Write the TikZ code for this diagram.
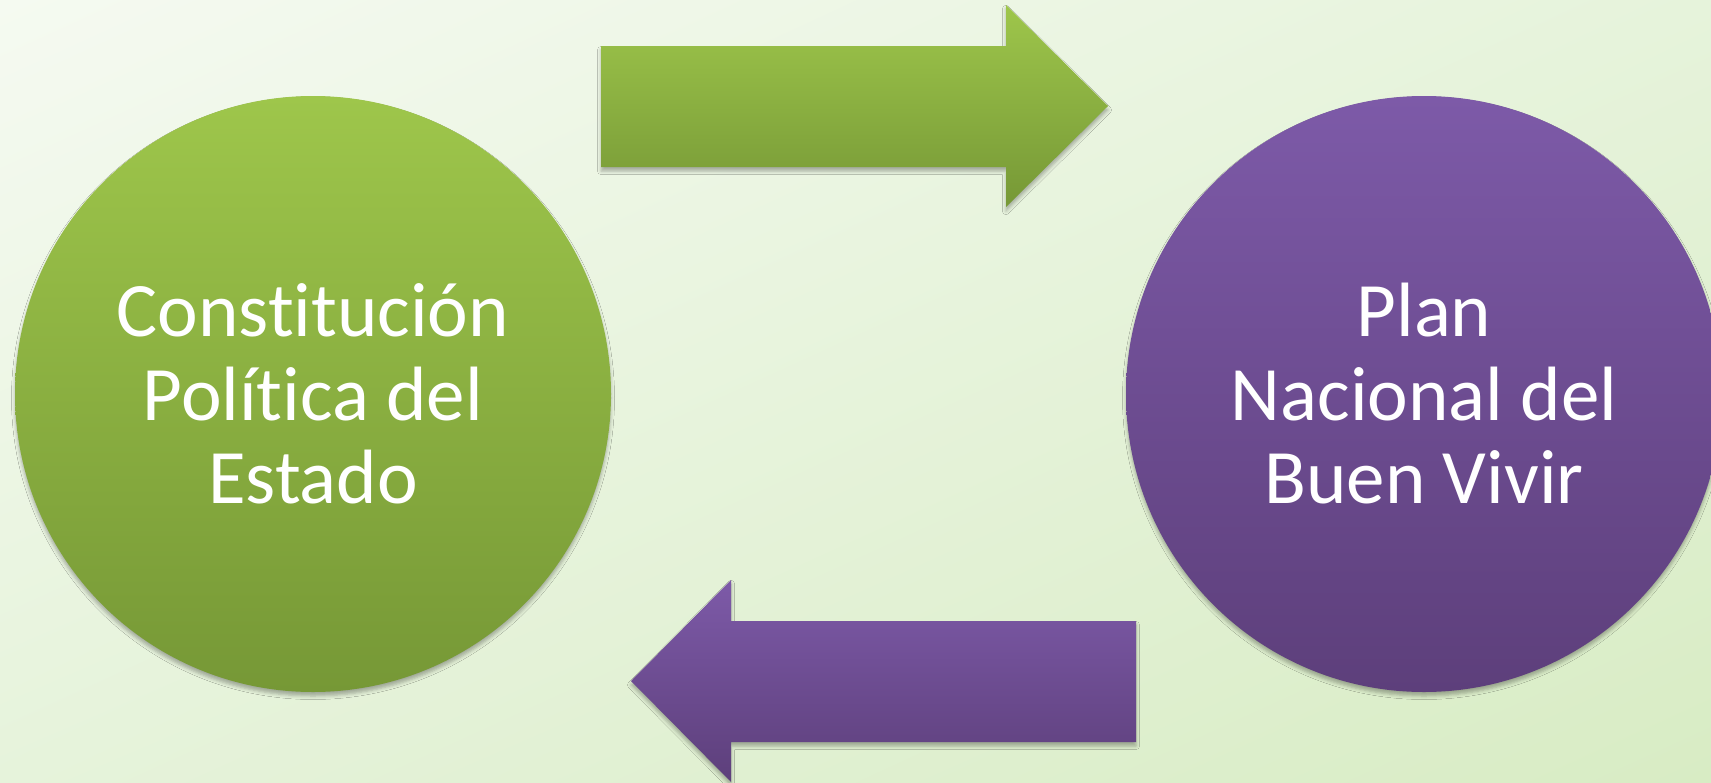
\documentclass[tikz,border=0pt]{standalone}
\usepackage{fontspec}
\setmainfont{Carlito}[Ligatures=NoCommon]
\usetikzlibrary{shadows.blur,shadings}
\definecolor{bgA}{HTML}{F5FAF1}
\definecolor{bgB}{HTML}{D8ECC4}
\definecolor{bgM}{HTML}{E6F3DB}
\definecolor{grT}{HTML}{9EC64B}
\definecolor{grB}{HTML}{769836}
\definecolor{puT}{HTML}{7D5AA8}
\definecolor{puB}{HTML}{5D3F7B}
\begin{document}
\begin{tikzpicture}[x=1pt,y=-1pt,
  shd/.style={blur shadow={shadow xshift=0pt,shadow yshift=-4pt,shadow blur radius=3.5pt,shadow opacity=30}},
  greenfill/.style={top color=grT,bottom color=grB},
  purplefill/.style={top color=puT,bottom color=puB},
  disc/.style={circle,minimum size=596pt,inner sep=0pt,shd,text=white,align=center,
    font=\fontsize{77}{83.5}\selectfont}]
\useasboundingbox (0,0) rectangle (1711,782);
\clip (0,0) rectangle (1711,782);
\shade[upper left=bgA,lower right=bgB,upper right=bgM,lower left=bgM] (0,0) rectangle (1711,782);
\node[disc,greenfill] (cpe) at (313,394) {Constitución\\Política del\\Estado};
\node[disc,purplefill] (pnbv) at (1424,394) {Plan\\Nacional del\\Buen Vivir};
\path[greenfill,shd] (601,46) -- (1006,46) -- (1006,5) -- (1108,106) -- (1006,207) -- (1006,167) -- (601,167) -- cycle;
\path[purplefill,shd] (1136,621) -- (731,621) -- (731,580) -- (631,681) -- (731,782) -- (731,742) -- (1136,742) -- cycle;
\end{tikzpicture}
\end{document}
